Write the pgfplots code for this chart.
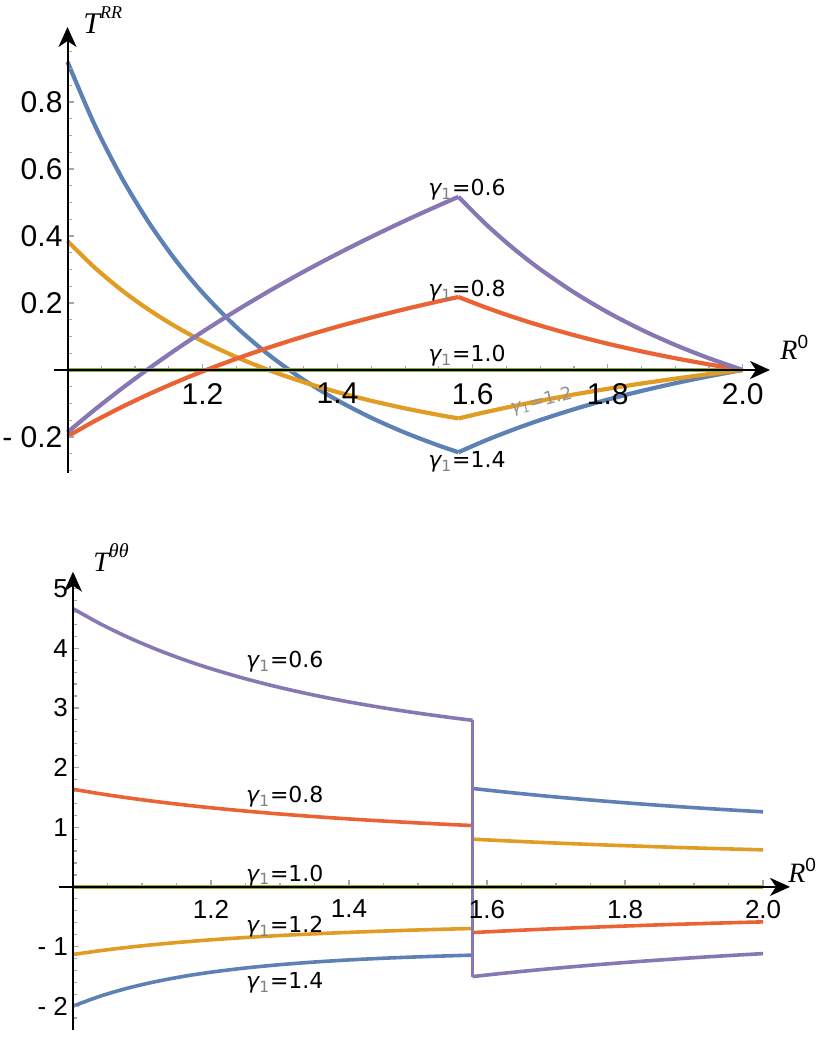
\documentclass[border=0pt]{standalone}
\usepackage{fontspec}
\setmainfont{Liberation Sans}
\newfontfamily\serifit{Liberation Serif}[ItalicFont={Liberation Serif Italic}]
\newfontfamily\dejavu{DejaVu Sans}
\usepackage{pgfplots}
\pgfplotsset{compat=1.18}
\usetikzlibrary{arrows.meta}
\definecolor{mblue}{HTML}{5E81B5}
\definecolor{morange}{HTML}{E19C24}
\definecolor{mgreen}{HTML}{8FB032}
\definecolor{mred}{HTML}{EB6235}
\definecolor{mpurple}{HTML}{8778B3}
\newcommand{\lab}{\dejavu\fontsize{11}{13}\selectfont}
\newcommand{\g}[1]{{\itshape γ}\textsubscript{\textcolor{gray}{1}}=#1}
\pgfplotsset{
  mstyle/.style={
    scale only axis, clip=false, axis on top,
    axis x line=middle, axis y line=left,
    axis line style={black, line width=1pt, -{Stealth[length=10pt,width=9pt,inset=3pt]}},
    tick align=inside,
    tick style={gray!70, line width=0.6pt},
    major tick length=3.2pt, minor tick length=2pt,
    xtick={1.2,1.4,1.6,1.8,2.0},
    xticklabels={1.2,1.4,1.6,1.8,2.0},
    minor xtick={1.05,1.1,1.15,1.25,1.3,1.35,1.45,1.5,1.55,1.65,1.7,1.75,1.85,1.9,1.95},
    xticklabel style={anchor=north, yshift=-3pt},
    yticklabel style={anchor=east, xshift=1pt},
  }
}
\begin{document}
\begin{tikzpicture}
\useasboundingbox (0,0) rectangle (415pt,524.5pt);
% ---------------- top: T^RR ----------------
\begin{axis}[mstyle,
  at={(27pt,288pt)}, anchor=south west,
  width=358pt, height=223pt,
  xmin=0.98, xmax=2.0404, ymin=-0.3075, ymax=1.024,
  axis y line shift=-6.752pt,
  ticklabel style={font=\fontsize{15}{17}\selectfont},
  ytick={-0.2,0.2,0.4,0.6,0.8},
  yticklabels={- 0.2,0.2,0.4,0.6,0.8},
  minor ytick={-0.3,-0.25,-0.15,-0.1,-0.05,0.05,0.1,0.15,0.25,0.3,0.35,0.45,0.5,0.55,0.65,0.7,0.75,0.85,0.9,0.95},
  every axis plot/.append style={line width=2.1pt},
]
% gamma1 = 1.4 (blue)
\addplot[mblue, smooth] coordinates {
(1.00,0.9200) (1.04,0.7327) (1.08,0.5750) (1.12,0.4417) (1.16,0.3282) (1.20,0.2310)
(1.25,0.1282) (1.30,0.0424) (1.35,-0.0297) (1.40,-0.0908) (1.45,-0.1428) (1.50,-0.1873)
(1.55,-0.2257) (1.579,-0.2455)};
\addplot[mblue, smooth] coordinates {
(1.579,-0.2455) (1.62,-0.2097) (1.66,-0.1782) (1.70,-0.1495) (1.75,-0.1172)
(1.80,-0.0884) (1.85,-0.0627) (1.90,-0.0396) (1.95,-0.0188) (2.00,0)};
% gamma1 = 1.2 (orange)
\addplot[morange, smooth] coordinates {
(1.00,0.3850) (1.04,0.3062) (1.08,0.2386) (1.12,0.1804) (1.16,0.1299) (1.20,0.0859)
(1.25,0.0386) (1.30,-0.0018) (1.35,-0.0364) (1.40,-0.0662) (1.45,-0.0920) (1.50,-0.1146)
(1.55,-0.1343) (1.579,-0.1446)};
\addplot[morange, smooth] coordinates {
(1.579,-0.1446) (1.62,-0.1254) (1.66,-0.1081) (1.70,-0.0919) (1.75,-0.0732)
(1.80,-0.0561) (1.85,-0.0404) (1.90,-0.0259) (1.95,-0.0124) (2.00,0)};
% gamma1 = 1.0 (green)
\addplot[mgreen] coordinates {(1.00,0) (2.00,0)};
% gamma1 = 0.8 (red)
\addplot[mred, smooth] coordinates {
(1.00,-0.1980) (1.04,-0.1527) (1.08,-0.1110) (1.12,-0.0726) (1.16,-0.0372) (1.20,-0.0043)
(1.25,0.0336) (1.30,0.0682) (1.35,0.1001) (1.40,0.1295) (1.45,0.1566) (1.50,0.1818)
(1.55,0.2052) (1.579,0.2180)};
\addplot[mred, smooth] coordinates {
(1.579,0.2180) (1.62,0.1862) (1.66,0.1582) (1.70,0.1327) (1.75,0.1041)
(1.80,0.0785) (1.85,0.0556) (1.90,0.0351) (1.95,0.0167) (2.00,0)};
% gamma1 = 0.6 (purple)
\addplot[mpurple, smooth] coordinates {
(1.00,-0.1860) (1.04,-0.1191) (1.08,-0.0560) (1.12,0.0036) (1.16,0.0602) (1.20,0.1139)
(1.25,0.1774) (1.30,0.2372) (1.35,0.2937) (1.40,0.3470) (1.45,0.3976) (1.50,0.4457)
(1.55,0.4914) (1.579,0.5170)};
\addplot[mpurple, smooth] coordinates {
(1.579,0.5170) (1.62,0.4346) (1.66,0.3636) (1.70,0.3008) (1.75,0.2319)
(1.80,0.1722) (1.85,0.1202) (1.90,0.0748) (1.95,0.0351) (2.00,0)};
\node[anchor=base west, inner sep=0pt] at (axis cs:1.023,1.005)
  {\serifit\itshape\fontsize{15}{18}\selectfont T\raisebox{0.5em}{\fontsize{9}{10}\selectfont RR}};
\node[anchor=base west, inner sep=0pt] at (axis cs:2.0553,0.03)
  {{\serifit\itshape\fontsize{14}{16}\selectfont R}\raisebox{0.55em}{\fontsize{9.5}{10}\selectfont 0}};
\node[font=\lab] at (axis cs:1.5916,0.537) {\g{0.6}};
\node[font=\lab] at (axis cs:1.5916,0.236) {\g{0.8}};
\node[font=\lab] at (axis cs:1.5916,0.042) {\g{1.0}};
\node[font=\lab] at (axis cs:1.5916,-0.275) {\g{1.4}};
\node[font=\dejavu\fontsize{9}{10}\selectfont, text=gray!85, rotate=14] at (axis cs:1.702,-0.094) {{\itshape γ}\textsubscript{1}=1.2};
\end{axis}
% ---------------- bottom: T^thetatheta ----------------
\begin{axis}[mstyle,
  at={(29.25pt,9.5pt)}, anchor=south west,
  width=365.75pt, height=229.15pt,
  xmin=0.979, xmax=2.039, ymin=-2.40, ymax=5.285,
  axis y line shift=-7.246pt,
  ticklabel style={font=\fontsize{13}{15}\selectfont},
  ytick={-2,-1,1,2,3,4,5},
  yticklabels={- 2,- 1,1,2,3,4,5},
  minor ytick={-2.2,-1.8,-1.6,-1.4,-1.2,-0.8,-0.6,-0.4,-0.2,0.2,0.4,0.6,0.8,1.2,1.4,1.6,1.8,2.2,2.4,2.6,2.8,3.2,3.4,3.6,3.8,4.2,4.4,4.6,4.8},
  every axis plot/.append style={line width=1.8pt},
]
% gamma1 = 1.4 (blue)
\addplot[mblue, smooth] coordinates {
(1.00,-2.0000) (1.04,-1.8305) (1.08,-1.6959) (1.12,-1.5882) (1.16,-1.5013) (1.20,-1.4306)
(1.25,-1.3600) (1.30,-1.3044) (1.35,-1.2603) (1.40,-1.2250) (1.45,-1.1966) (1.50,-1.1734)
(1.55,-1.1544) (1.579,-1.1450)};
\addplot[mblue] coordinates {(1.579,-1.1450) (1.579,1.6500)};
\addplot[mblue, smooth] coordinates {
(1.579,1.6500) (1.62,1.5980) (1.66,1.5509) (1.70,1.5071)
(1.75,1.4566) (1.80,1.4102) (1.85,1.3675) (1.90,1.3281) (1.95,1.2917) (2.00,1.2580)};
% gamma1 = 1.2 (orange)
\addplot[morange, smooth] coordinates {
(1.00,-1.1340) (1.04,-1.0691) (1.08,-1.0135) (1.12,-0.9656) (1.16,-0.9240) (1.20,-0.8878)
(1.25,-0.8488) (1.30,-0.8156) (1.35,-0.7871) (1.40,-0.7625) (1.45,-0.7413) (1.50,-0.7227)
(1.55,-0.7065) (1.579,-0.6980)};
\addplot[morange] coordinates {(1.579,-0.6980) (1.579,0.8000)};
\addplot[morange, smooth] coordinates {
(1.579,0.8000) (1.62,0.7762) (1.66,0.7548) (1.70,0.7348)
(1.75,0.7117) (1.80,0.6905) (1.85,0.6710) (1.90,0.6530) (1.95,0.6364) (2.00,0.6210)};
% gamma1 = 1.0 (green)
\addplot[mgreen] coordinates {(1.00,0) (2.00,0)};
% gamma1 = 0.8 (red)
\addplot[mred, smooth] coordinates {
(1.00,1.6370) (1.04,1.5603) (1.08,1.4919) (1.12,1.4308) (1.16,1.3758) (1.20,1.3263)
(1.25,1.2709) (1.30,1.2218) (1.35,1.1781) (1.40,1.1390) (1.45,1.1038) (1.50,1.0721)
(1.55,1.0434) (1.579,1.0280)};
\addplot[mred] coordinates {(1.579,1.0280) (1.579,-0.7660)};
\addplot[mred, smooth] coordinates {
(1.579,-0.7660) (1.62,-0.7423) (1.66,-0.7208) (1.70,-0.7008)
(1.75,-0.6777) (1.80,-0.6565) (1.85,-0.6370) (1.90,-0.6190) (1.95,-0.6024) (2.00,-0.5870)};
% gamma1 = 0.6 (purple)
\addplot[mpurple, smooth] coordinates {
(1.00,4.6650) (1.04,4.4081) (1.08,4.1837) (1.12,3.9865) (1.16,3.8126) (1.20,3.6584)
(1.25,3.4893) (1.30,3.3423) (1.35,3.2138) (1.40,3.1009) (1.45,3.0014) (1.50,2.9131)
(1.55,2.8346) (1.579,2.7930)};
\addplot[mpurple] coordinates {(1.579,2.7930) (1.579,-1.5040)};
\addplot[mpurple, smooth] coordinates {
(1.579,-1.5040) (1.62,-1.4529) (1.66,-1.4067) (1.70,-1.3637)
(1.75,-1.3140) (1.80,-1.2684) (1.85,-1.2265) (1.90,-1.1878) (1.95,-1.1521) (2.00,-1.1190)};
\node[anchor=base west, inner sep=0pt] at (axis cs:1.029,5.285)
  {\serifit\itshape\fontsize{14}{17}\selectfont T\raisebox{0.5em}{\fontsize{10}{11}\selectfont θθ}};
\node[anchor=base west, inner sep=0pt] at (axis cs:2.036,0.067)
  {{\serifit\itshape\fontsize{14}{16}\selectfont R}\raisebox{0.55em}{\fontsize{9.5}{10}\selectfont 0}};
\node[font=\lab] at (axis cs:1.307,3.775) {\g{0.6}};
\node[font=\lab] at (axis cs:1.307,1.51) {\g{0.8}};
\node[font=\lab] at (axis cs:1.307,0.196) {\g{1.0}};
\node[font=\lab] at (axis cs:1.307,-0.671) {\g{1.2}};
\node[font=\lab] at (axis cs:1.307,-1.61) {\g{1.4}};
\end{axis}
\end{tikzpicture}
\end{document}
